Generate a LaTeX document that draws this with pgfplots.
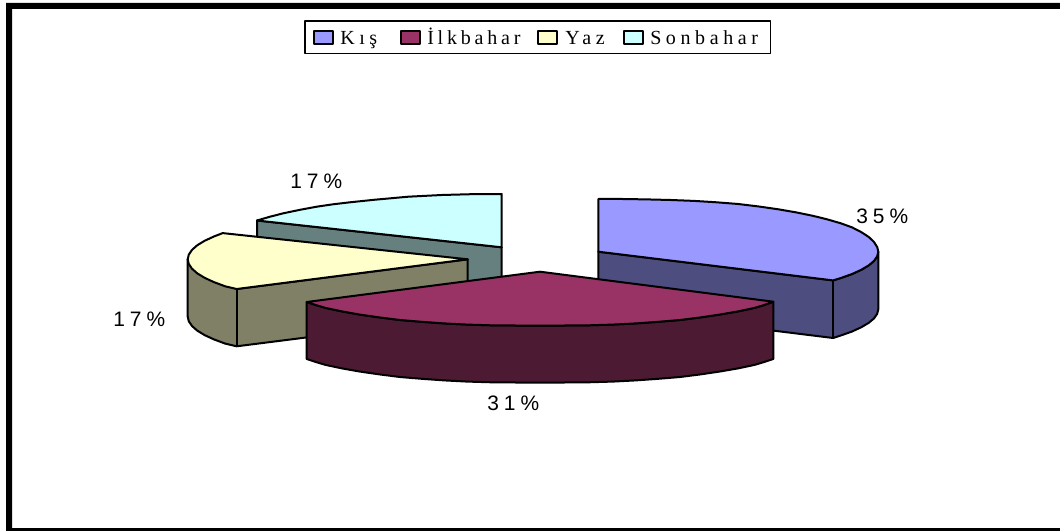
\documentclass[border=0pt]{standalone}
\usepackage{pgfplots}
\pgfplotsset{compat=1.18}
\usepackage{fontspec}
\setmainfont{Liberation Sans}
\newfontfamily\lab[LetterSpace=24]{Liberation Sans}
\newfontfamily\leg[LetterSpace=23]{Liberation Serif}
\newfontfamily\legb[LetterSpace=19]{Liberation Serif}
\definecolor{kis}{HTML}{9999FF}\definecolor{kisd}{HTML}{4D4D80}
\definecolor{ilk}{HTML}{993366}\definecolor{ilkd}{HTML}{4D1A33}
\definecolor{yaz}{HTML}{FFFFCC}\definecolor{yazd}{HTML}{808066}
\definecolor{son}{HTML}{CCFFFF}\definecolor{sond}{HTML}{668080}
\begin{document}
\begin{tikzpicture}
\begin{axis}[scale only axis,width=795pt,height=398.25pt,xmin=0,xmax=1060,ymin=0,ymax=531,y dir=reverse,axis lines=none,clip=true,
 every axis plot/.append style={draw=black,line width=1.5pt,line join=round,no markers}]
% page background, which fixes the picture's extent
\addplot[fill=white,draw=none] coordinates {(0,0)(1060,0)(1060,531)(0,531)} -- cycle;
% frame
\addplot[fill=black,draw=none] coordinates {(6,3)(1060,3)(1060,9)(12,9)(12,528)(1060,528)(1060,531)(6,531)} -- cycle;
% Sonbahar
\addplot[fill=sond] coordinates {(257,220.5)(501.7,247.3)(501.7,305)(257,279)} -- cycle;
\addplot[fill=son] coordinates {(501.7,247.3)(257,220.5)(270,216.7)(283.3,213.3)(300,209.8)(316.7,206.7)(333,204.3)(350,202.3)(375,199.7)(408.3,196.7)(441.7,195)(475,194.1)(501.7,194)} -- cycle;
% Yaz
\addplot[fill=yazd] coordinates {(467.7,259.3)(467.7,317)(236.7,346.3)(225.2,343.6)(213.9,339.4)(204.6,335.1)(197.2,330.6)(192,326)(188.8,321.3)(187.7,316.6)(187.7,259.3)(236.7,289)} -- cycle;
\addplot[fill=yaz] coordinates {(467.7,259.3)(236.7,289)(225.2,286.3)(213.9,282.1)(204.6,277.8)(197.2,273.3)(192,268.7)(188.8,264)(187.7,259.3)(188.8,254.6)(192,249.9)(197.2,245.3)(204.6,240.8)(213.9,236.5)(222.7,233.1)} -- cycle;
\addplot[draw=black] coordinates {(236.7,289)(236.7,346.3)};
% Kis
\addplot[fill=kisd] coordinates {(598.3,251.7)(833.1,280.4)(840.8,278)(852.1,274)(861.4,269.7)(868.8,265.3)(874,260.9)(877.2,256.3)(878.3,251.7)(878.3,309.2)(877.2,313.8)(874,318.4)(868.8,322.8)(861.4,327.2)(852.1,331.5)(840.8,335.5)(833.1,338)(598.3,309)} -- cycle;
\addplot[fill=kis] coordinates {(598.3,251.7)(833.1,280.4)(840.8,278)(852.1,274)(861.4,269.7)(868.8,265.3)(874,260.9)(877.2,256.3)(878.3,251.7)(877.2,247.1)(874,242)(868.8,237)(861.4,232.2)(852.1,227.4)(840.8,223.3)(827.7,219.5)(812.8,215.8)(796.3,212.4)(778.3,209.3)(758.9,206.5)(738.3,204)(716.6,202.3)(694.1,200.9)(670.8,200)(646.9,199.4)(622.7,199)(598.3,199)} -- cycle;
\addplot[draw=black] coordinates {(833.1,280.4)(833.1,338)};
% Ilkbahar
\addplot[fill=ilkd] coordinates {(306.7,302)(316.4,305.2)(325.5,307.9)(342,311.4)(359.4,314.5)(379.4,317.4)(400,320)(421.7,321.8)(444.2,323.4)(467.5,324.6)(491.4,325.3)(515.6,325.5)(540,325.7)(564.4,325.5)(588.6,325.3)(612.5,324.6)(635.8,323.4)(658.3,321.8)(680,320)(700.6,317.4)(720,314.5)(738,311.4)(754.5,307.9)(763.6,305.2)(773.3,301.7)(773.3,359)(763.6,362.2)(754.5,364.9)(738,368.4)(720,371.5)(700.6,374.4)(680,377)(658.3,378.8)(635.8,380.4)(612.5,381.6)(588.6,382.3)(564.4,382.5)(540,382.7)(515.6,382.5)(491.4,382.3)(467.5,381.6)(444.2,380.4)(421.7,378.8)(400,377)(379.4,374.4)(359.4,371.5)(342,368.4)(325.5,364.9)(316.4,362.2)(306.7,359)} -- cycle;
\addplot[fill=ilk] coordinates {(540,271.7)(773.3,301.7)(763.6,305.2)(754.5,307.9)(738,311.4)(720,314.5)(700.6,317.4)(680,320)(658.3,321.8)(635.8,323.4)(612.5,324.6)(588.6,325.3)(564.4,325.5)(540,325.7)(515.6,325.5)(491.4,325.3)(467.5,324.6)(444.2,323.4)(421.7,321.8)(400,320)(379.4,317.4)(359.4,314.5)(342,311.4)(325.5,307.9)(316.4,305.2)(306.7,302)} -- cycle;
% legend
\addplot[fill=white,line width=0.8pt] coordinates {(305,21)(770.7,21)(770.7,53.3)(305,53.3)} -- cycle;
\addplot[fill=kis,line width=1.5pt] coordinates {(314,31)(333,31)(333,44.5)(314,44.5)} -- cycle;
\addplot[fill=ilk,line width=1.5pt] coordinates {(401,31)(420,31)(420,44.5)(401,44.5)} -- cycle;
\addplot[fill=yaz,line width=1.5pt] coordinates {(538,31)(557,31)(557,44.5)(538,44.5)} -- cycle;
\addplot[fill=son,line width=1.5pt] coordinates {(624,31)(643,31)(643,44.5)(624,44.5)} -- cycle;
\node[anchor=base west,inner sep=0,font=\leg\fontsize{15}{16}\selectfont] at (axis cs:340,45) {Kış};
\node[anchor=base west,inner sep=0,font=\legb\fontsize{15}{16}\selectfont] at (axis cs:427,45) {İlkbahar};
\node[anchor=base west,inner sep=0,font=\leg\fontsize{15}{16}\selectfont] at (axis cs:565,45) {Yaz};
\node[anchor=base west,inner sep=0,font=\leg\fontsize{15}{16}\selectfont] at (axis cs:650,45) {Sonbahar};
% labels
\node[anchor=base west,inner sep=0,font=\lab\fontsize{15.7}{17}\selectfont] at (axis cs:856,223.5) {35\%};
\node[anchor=base west,inner sep=0,font=\lab\fontsize{15.7}{17}\selectfont] at (axis cs:290,189) {17\%};
\node[anchor=base west,inner sep=0,font=\lab\fontsize{15.7}{17}\selectfont] at (axis cs:113,326) {17\%};
\node[anchor=base west,inner sep=0,font=\lab\fontsize{15.7}{17}\selectfont] at (axis cs:487,410) {31\%};
\end{axis}
\end{tikzpicture}
\end{document}
